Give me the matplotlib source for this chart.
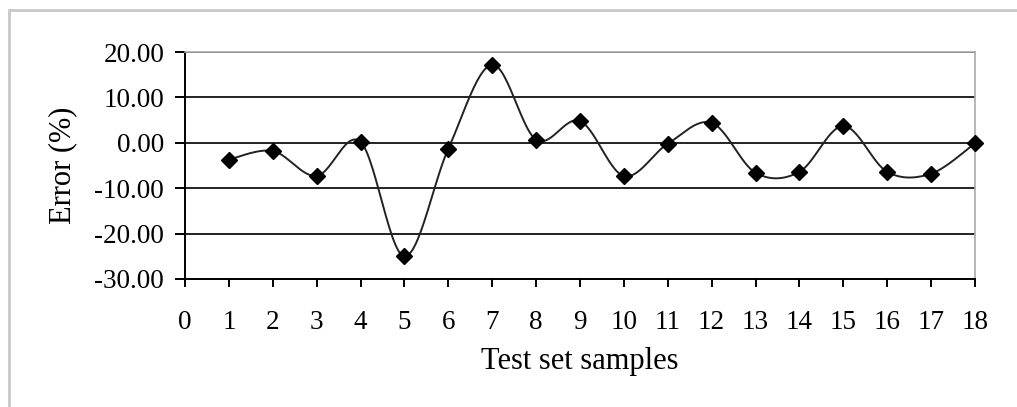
import numpy as np
import matplotlib.pyplot as plt
from matplotlib.patches import Rectangle

samples = list(range(1, 19))
errors = [-3.7, -1.8, -7.3, 0.2, -25.0, -1.3, 17.2, 0.7, 4.8,
          -7.3, -0.2, 4.4, -6.6, -6.4, 3.7, -6.4, -6.8, -0.1]
xticks = list(range(0, 19))
yticks = [-30, -20, -10, 0, 10, 20]


def smooth_curve(xs, ys, n=30):
    # Excel-style smoothed line: cubic Bezier with Catmull-Rom control points
    xs = np.asarray(xs, float)
    ys = np.asarray(ys, float)
    px = np.concatenate([[xs[0]], xs, [xs[-1]]])
    py = np.concatenate([[ys[0]], ys, [ys[-1]]])
    t = np.linspace(0, 1, n)
    outx, outy = [], []
    for i in range(1, len(px) - 2):
        p0 = np.array([px[i], py[i]])
        p3 = np.array([px[i + 1], py[i + 1]])
        c1 = p0 + (p3 - np.array([px[i - 1], py[i - 1]])) / 6
        c2 = p3 - (np.array([px[i + 2], py[i + 2]]) - p0) / 6
        b = ((1 - t) ** 3)[:, None] * p0 + (3 * (1 - t) ** 2 * t)[:, None] * c1 \
            + (3 * (1 - t) * t ** 2)[:, None] * c2 + (t ** 3)[:, None] * p3
        outx.extend(b[:, 0])
        outy.extend(b[:, 1])
    return outx, outy


plt.rcParams["font.family"] = ["Liberation Serif", "DejaVu Serif"]

fig = plt.figure(figsize=(10.17, 4.07), dpi=100)
fig.patches.append(Rectangle((0.009, -0.02), 1.1, 0.995, transform=fig.transFigure,
                             fill=False, edgecolor="#c8c8c8", linewidth=2.0))
ax = fig.add_axes([0.1819, 0.3145, 0.7768, 0.5577])

cx, cy = smooth_curve(samples, errors)
ax.plot(cx, cy, color="#222222", linewidth=1.4, zorder=3)
ax.plot(samples, errors, linestyle="none", marker="D", markersize=8.5,
        color="black", zorder=4, clip_on=False)

ax.set_xlim(0, 18)
ax.set_ylim(-30, 20)
ax.set_xticks(xticks)
ax.set_yticks(yticks)
ax.set_yticklabels([f"{v:.2f}" for v in yticks])
ax.yaxis.grid(True, color="#222222", linewidth=1.4)
ax.set_axisbelow(True)

for side in ["top", "right"]:
    ax.spines[side].set_color("#aaaaaa")
    ax.spines[side].set_linewidth(1.2)
for side in ["left", "bottom"]:
    ax.spines[side].set_color("black")
    ax.spines[side].set_linewidth(1.4)

ax.tick_params(axis="y", direction="out", length=7, width=1.4, pad=8, labelsize=19.5)
ax.tick_params(axis="x", direction="out", length=6, width=1.4, pad=16, labelsize=19.5)

ax.set_xlabel("Test set samples", fontsize=22, labelpad=9)
ax.set_ylabel("Error (%)", fontsize=22, labelpad=12)

fig.savefig("out.png", dpi=100)
